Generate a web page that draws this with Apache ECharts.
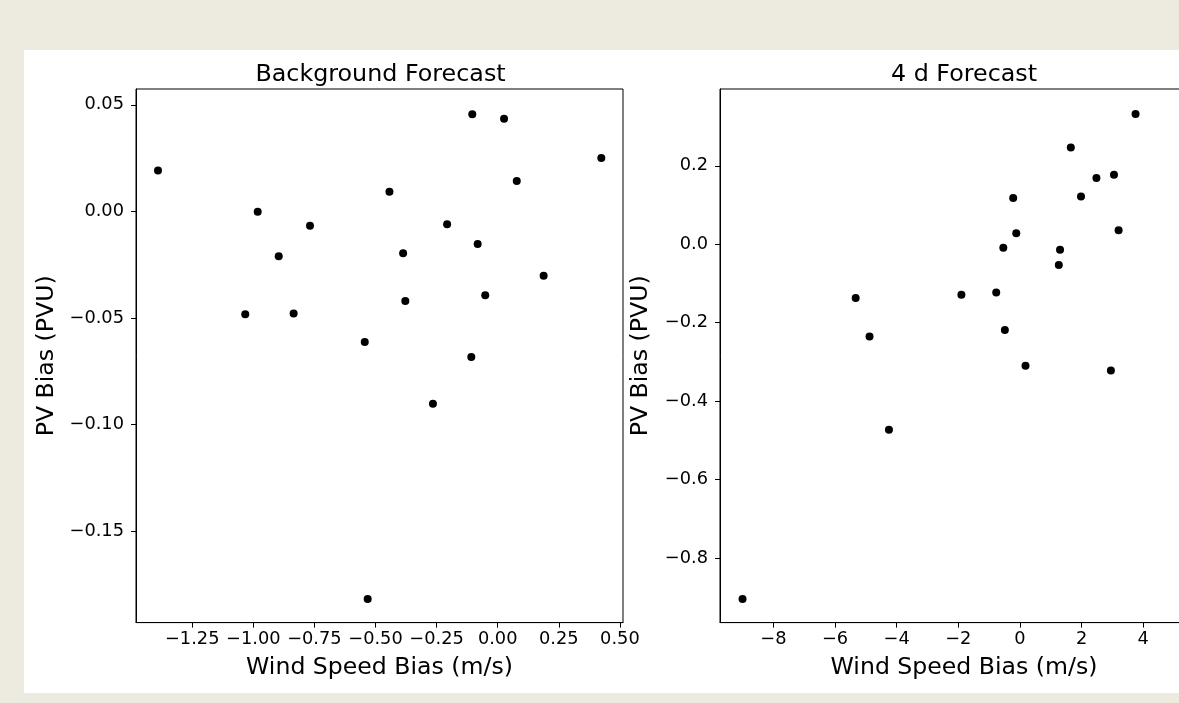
<!DOCTYPE html>
<html>
<head>
<meta charset="utf-8">
<script src="https://cdn.jsdelivr.net/npm/echarts@6/dist/echarts.min.js"></script>
<style>
  html, body { margin: 0; padding: 0; background: #edebe0; overflow: hidden; width: 1179px; height: 703px; }
  #main { position: absolute; left: 24px; top: 50px; width: 1240px; height: 643px; background: #ffffff; }
</style>
</head>
<body>
<div id="main"></div>
<script>
// Background Forecast panel
var bgWind = [-1.390, -0.104, 0.026, 0.424, 0.078, -0.443, -0.982, -0.768, -0.207, -0.896, -0.387,
              -0.082, 0.188, -0.051, -0.378, -1.033, -0.835, -0.544, -0.108, -0.265, -0.532];
var bgPV   = [0.0192, 0.0456, 0.0434, 0.0250, 0.0142, 0.0092, -0.0002, -0.0068, -0.0060, -0.0211, -0.0197,
              -0.0153, -0.0302, -0.0393, -0.0421, -0.0483, -0.0479, -0.0613, -0.0683, -0.0902, -0.1818];

// 4 d Forecast panel
var fcWind = [3.75, 1.65, 2.48, 3.05, -0.22, 1.98, -0.12, 3.20, -0.54, 1.30, 1.26,
              -5.33, -1.90, -0.77, -4.88, -0.49, 0.18, 2.95, -4.25, -9.00];
var fcPV   = [0.332, 0.247, 0.169, 0.177, 0.118, 0.122, 0.028, 0.036, -0.009, -0.014, -0.053,
              -0.137, -0.129, -0.123, -0.235, -0.219, -0.310, -0.322, -0.473, -0.905];

// tick labels
var bgXTicks = [-1.25, -1.00, -0.75, -0.50, -0.25, 0.00, 0.25, 0.50];
var bgYTicks = [-0.15, -0.10, -0.05, 0.00, 0.05];
var fcXTicks = [-8, -6, -4, -2, 0, 2, 4];
var fcYTicks = [-0.8, -0.6, -0.4, -0.2, 0.0, 0.2];

function pairs(xs, ys) {
    var out = [];
    for (var i = 0; i < xs.length; i++) out.push([xs[i], ys[i]]);
    return out;
}
function fmt(d) {
    return function (v) {
        var s = Number(v).toFixed(d);
        if (Number(s) === 0) s = (0).toFixed(d);
        return s.replace('-', '\u2212');
    };
}

var font = 'DejaVu Sans';
var black = '#000000';

function makeX(idx, min, max, ticks, dec) {
    return {
        type: 'value', gridIndex: idx, min: min, max: max,
        name: 'Wind Speed Bias (m/s)', nameLocation: 'middle', nameGap: 33,
        nameTextStyle: { fontFamily: font, fontSize: 23.6, color: black },
        axisLine: { show: true, onZero: false, lineStyle: { color: black, width: 1 } },
        axisTick: { show: true, length: 5, customValues: ticks, lineStyle: { color: black, width: 1 } },
        axisLabel: { customValues: ticks, formatter: fmt(dec), fontFamily: font, fontSize: 17.8, color: black, margin: 8 },
        splitLine: { show: false }
    };
}
function makeY(idx, min, max, ticks, dec, gap) {
    return {
        type: 'value', gridIndex: idx, min: min, max: max,
        name: 'PV Bias (PVU)', nameLocation: 'middle', nameGap: gap, nameRotate: 90,
        nameTextStyle: { fontFamily: font, fontSize: 23.6, color: black },
        axisLine: { show: true, onZero: false, lineStyle: { color: black, width: 1 } },
        axisTick: { show: true, length: 5, customValues: ticks, lineStyle: { color: black, width: 1 } },
        axisLabel: { customValues: ticks, formatter: fmt(dec), fontFamily: font, fontSize: 17.8, color: black, margin: 12 },
        splitLine: { show: false }
    };
}

var chart = echarts.init(document.getElementById('main'), null, { renderer: 'canvas' });

var option = {
    backgroundColor: '#ffffff',
    animation: false,
    title: [
        { text: 'Background Forecast', left: 351.5, top: 8, textAlign: 'center',
          textStyle: { fontFamily: font, fontSize: 23.8, fontWeight: 'normal', color: black } },
        { text: '4 d Forecast', left: 935, top: 8, textAlign: 'center',
          textStyle: { fontFamily: font, fontSize: 23.8, fontWeight: 'normal', color: black } }
    ],
    grid: [
        { left: 112, top: 39, width: 487, height: 533.6, show: true, borderColor: black, borderWidth: 1, backgroundColor: 'transparent' },
        { left: 696, top: 39, width: 488, height: 533.6, show: true, borderColor: black, borderWidth: 1, backgroundColor: 'transparent' }
    ],
    xAxis: [
        makeX(0, -1.480, 0.5127, bgXTicks, 2),
        makeX(1, -9.731, 6.10, fcXTicks, 0)
    ],
    yAxis: [
        makeY(0, -0.1929, 0.0574, bgYTicks, 2, 77),
        makeY(1, -0.965, 0.396, fcYTicks, 1, 67)
    ],
    series: [
        { type: 'scatter', xAxisIndex: 0, yAxisIndex: 0, data: pairs(bgWind, bgPV),
          symbol: 'circle', symbolSize: 8, itemStyle: { color: black, opacity: 1 } },
        { type: 'scatter', xAxisIndex: 1, yAxisIndex: 1, data: pairs(fcWind, fcPV),
          symbol: 'circle', symbolSize: 8, itemStyle: { color: black, opacity: 1 } }
    ]
};

chart.setOption(option);
</script>
</body>
</html>
